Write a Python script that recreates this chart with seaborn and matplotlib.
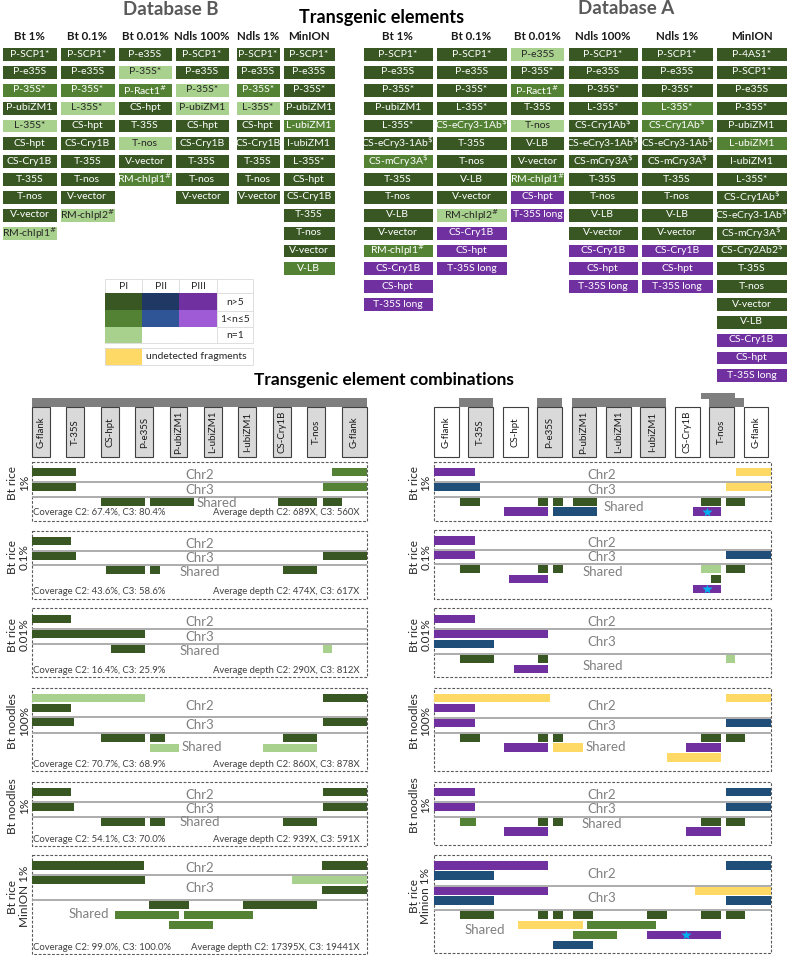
import numpy as np
import matplotlib.pyplot as plt
from matplotlib.colors import ListedColormap
from matplotlib.patches import Rectangle
import seaborn as sns

# -----------------------
# Colour codes
# -----------------------
# D/M/L: PI n>5, 1<n<=5, n=1 ; N/b: PII ; P/p: PIII ; B: PII bars ; Y: undetected
CODES = ["D", "M", "L", "N", "b", "P", "p", "B", "Y", "W"]
PALETTE = ["#385723", "#548235", "#a9d18e", "#203864", "#2f5597",
           "#7030a0", "#9e5bd5", "#1f4e79", "#ffd966", "#ffffff"]
CMAP = ListedColormap(PALETTE)

# -----------------------
# Transgenic element tables
# -----------------------
headers = ["Bt 1%", "Bt 0.1%", "Bt 0.01%", "Ndls 100%", "Ndls 1%", "MinION"]

b_bt1 = ["P-SCP1*", "P-e35S", "P-35S*", "P-ubiZM1", "L-35S*", "CS-hpt", "CS-Cry1B",
         "T-35S", "T-nos", "V-vector", "RM-chlpl1#"]
b_bt1_lv = "DDMDLDDDDDL"
b_bt01 = ["P-SCP1*", "P-e35S", "P-35S*", "L-35S*", "CS-hpt", "CS-Cry1B", "T-35S",
          "T-nos", "V-vector", "RM-chlpl2#"]
b_bt01_lv = "DDMLDDDDDL"
b_bt001 = ["P-e35S", "P-35S*", "P-Ract1#", "CS-hpt", "T-35S", "T-nos", "V-vector",
           "RM-chlpl1#"]
b_bt001_lv = "DLMDDLDM"
b_nd100 = ["P-SCP1*", "P-e35S", "P-35S*", "P-ubiZM1", "CS-hpt", "CS-Cry1B", "T-35S",
           "T-nos", "V-vector"]
b_nd100_lv = "DDLLDDDDD"
b_nd1 = ["P-SCP1*", "P-e35S", "P-35S*", "L-35S*", "CS-hpt", "CS-Cry1B", "T-35S",
         "T-nos", "V-vector"]
b_nd1_lv = "DDMLDDDDD"
b_minion = ["P-SCP1*", "P-e35S", "P-35S*", "P-ubiZM1", "L-ubiZM1", "I-ubiZM1", "L-35S*",
            "CS-hpt", "CS-Cry1B", "T-35S", "T-nos", "V-vector", "V-LB"]
b_minion_lv = "DDDDMDDDDDDDM"

a_bt1 = ["P-SCP1*", "P-e35S", "P-35S*", "P-ubiZM1", "L-35S*", "CS-eCry3-1Ab$",
         "CS-mCry3A$", "T-35S", "T-nos", "V-LB", "V-vector", "RM-chlpl1#", "CS-Cry1B",
         "CS-hpt", "T-35S long"]
a_bt1_lv = "DDDDDDMDDDDMPPP"
a_bt01 = ["P-SCP1*", "P-e35S", "P-35S*", "L-35S*", "CS-eCry3-1Ab$", "T-35S", "T-nos",
          "V-LB", "V-vector", "RM-chlpl2#", "CS-Cry1B", "CS-hpt", "T-35S long"]
a_bt01_lv = "DDDDMDDDDLPPP"
a_bt001 = ["P-e35S", "P-35S*", "P-Ract1#", "T-35S", "T-nos", "V-LB", "V-vector",
           "RM-chlpl1#", "CS-hpt", "T-35S long"]
a_bt001_lv = "LDMDLDDMPP"
a_nd100 = ["P-SCP1*", "P-e35S", "P-35S*", "L-35S*", "CS-Cry1Ab$", "CS-eCry3-1Ab$",
           "CS-mCry3A$", "T-35S", "T-nos", "V-LB", "V-vector", "CS-Cry1B", "CS-hpt",
           "T-35S long"]
a_nd100_lv = "DDDDDDDDDDDPPP"
a_nd1 = list(a_nd100)
a_nd1_lv = "DDDMMDDDDDDPPP"
a_minion = ["P-4AS1*", "P-SCP1*", "P-e35S", "P-35S*", "P-ubiZM1", "L-ubiZM1", "I-ubiZM1",
            "L-35S*", "CS-Cry1Ab$", "CS-eCry3-1Ab$", "CS-mCry3A$", "CS-Cry2Ab2$", "T-35S",
            "T-nos", "V-vector", "V-LB", "CS-Cry1B", "CS-hpt", "T-35S long"]
a_minion_lv = "DDDDDMDDDDDDDDDDPPP"

legend_rows = ["n>5", "1<n≤5", "n=1"]
legend_cols = ["PI", "PII", "PIII"]
legend_codes = [["D", "N", "P"], ["M", "b", "p"], ["L", "W", "W"]]

# -----------------------
# Element combinations (track, lane, start, end, code) in element units
# -----------------------
elements = ["G-flank", "T-35S", "CS-hpt", "P-e35S", "P-ubiZM1", "L-ubiZM1",
            "I-ubiZM1", "CS-Cry1B", "T-nos", "G-flank"]
filled_a = [False, True, False, True, True, True, True, False, True, False]
top_bars_a = [(0.73, 1.72, 0), (2.99, 3.72, 0), (4.01, 6.74, 0), (7.75, 8.74, 1), (7.99, 9.01, 0)]

left_names = ["Bt rice\n1%", "Bt rice\n0.1%", "Bt rice\n0.01%", "Bt noodles\n100%",
              "Bt noodles\n1%", "Bt rice\nMinION 1%"]
right_names = ["Bt rice\n1%", "Bt rice\n0.1%", "Bt rice\n0.01%", "Bt noodles\n100%",
               "Bt noodles\n1%", "Bt rice\nMinion 1%"]

cov_c2 = [67.4, 43.6, 16.4, 70.7, 54.1, 99.0]
cov_c3 = [80.4, 58.6, 25.9, 68.9, 70.0, 100.0]
depth_c2 = [689, 474, 290, 860, 939, 17395]
depth_c3 = [560, 617, 812, 878, 591, 19441]

L1 = [("Chr2", 0, 0.00, 1.28, "D"), ("Chr2", 0, 8.73, 9.74, "M"),
      ("Chr3", 0, 0.00, 1.28, "D"), ("Chr3", 0, 8.45, 9.74, "M"),
      ("Shared", 0, 2.00, 3.29, "D"), ("Shared", 0, 3.43, 4.71, "D"),
      ("Shared", 0, 7.16, 8.29, "D"), ("Shared", 0, 8.45, 9.02, "D")]
L2 = [("Chr2", 0, 0.00, 1.14, "D"),
      ("Chr3", 0, 0.00, 1.28, "D"), ("Chr3", 0, 8.45, 9.74, "D"),
      ("Shared", 0, 2.15, 3.29, "D"), ("Shared", 0, 3.43, 3.72, "D"),
      ("Shared", 0, 7.31, 8.29, "D")]
L3 = [("Chr2", 0, 0.00, 1.14, "D"),
      ("Chr3", 0, 0.00, 3.29, "D"),
      ("Shared", 0, 2.29, 3.29, "D"), ("Shared", 0, 8.45, 8.71, "L")]
L4 = [("Chr2", 0, 0.00, 3.29, "L"), ("Chr2", 0, 8.45, 9.74, "D"), ("Chr2", 1, 0.00, 1.14, "D"),
      ("Chr3", 0, 0.00, 1.21, "D"), ("Chr3", 0, 8.45, 9.74, "D"),
      ("Shared", 0, 2.00, 3.29, "D"), ("Shared", 0, 3.43, 3.87, "D"),
      ("Shared", 0, 7.31, 8.29, "D"), ("Shared", 1, 3.43, 4.28, "L"),
      ("Shared", 1, 6.72, 8.29, "L")]
L5 = [("Chr2", 0, 0.00, 1.14, "D"), ("Chr2", 0, 8.45, 9.74, "D"),
      ("Chr3", 0, 0.00, 1.21, "D"), ("Chr3", 0, 8.45, 9.74, "D"),
      ("Shared", 0, 2.00, 3.29, "D"), ("Shared", 0, 3.43, 3.87, "D"),
      ("Shared", 0, 7.31, 8.29, "D")]
L6 = [("Chr2", 0, 0.00, 3.27, "D"), ("Chr2", 0, 8.42, 9.74, "D"),
      ("Chr3", 0, 0.00, 3.29, "D"), ("Chr3", 0, 7.57, 9.74, "L"), ("Chr3", 1, 8.42, 9.74, "D"),
      ("Shared", 0, 3.41, 4.56, "D"), ("Shared", 0, 6.14, 8.28, "D"),
      ("Shared", 1, 2.41, 4.27, "M"), ("Shared", 1, 4.42, 6.42, "M"),
      ("Shared", 2, 3.99, 5.27, "M")]

R1 = [("Chr2", 0, 0.00, 1.18, "P"), ("Chr2", 0, 8.77, 9.79, "Y"),
      ("Chr3", 0, 0.00, 1.33, "B"), ("Chr3", 0, 8.48, 9.79, "Y"),
      ("Shared", 0, 0.75, 1.33, "D"), ("Shared", 0, 3.02, 3.32, "D"),
      ("Shared", 0, 3.47, 3.76, "D"), ("Shared", 0, 4.04, 4.75, "D"),
      ("Shared", 0, 7.75, 8.33, "D"), ("Shared", 0, 8.48, 9.04, "D"),
      ("Shared", 1, 2.03, 3.32, "P"), ("Shared", 1, 3.47, 4.75, "B"),
      ("Shared", 1, 7.54, 8.33, "P")]
R2 = [("Chr2", 0, 0.00, 1.18, "P"),
      ("Chr3", 0, 0.00, 1.18, "P"), ("Chr3", 0, 8.48, 9.79, "B"),
      ("Shared", 0, 0.75, 1.33, "D"), ("Shared", 0, 3.02, 3.32, "D"),
      ("Shared", 0, 3.47, 3.76, "D"), ("Shared", 0, 7.75, 8.33, "L"),
      ("Shared", 0, 8.48, 9.04, "D"), ("Shared", 1, 2.18, 3.32, "P"),
      ("Shared", 1, 8.04, 8.33, "D"), ("Shared", 2, 7.54, 8.33, "P")]
R3 = [("Chr2", 0, 0.00, 1.18, "P"),
      ("Chr3", 0, 0.00, 3.32, "P"), ("Chr3", 1, 0.00, 1.75, "B"),
      ("Shared", 0, 0.75, 1.75, "D"), ("Shared", 0, 3.02, 3.32, "D"),
      ("Shared", 0, 8.48, 8.75, "L"), ("Shared", 1, 2.33, 3.32, "P")]
R4 = [("Chr2", 0, 0.00, 3.38, "Y"), ("Chr2", 0, 8.48, 9.79, "Y"), ("Chr2", 1, 0.00, 1.18, "P"),
      ("Chr3", 0, 0.00, 1.18, "P"), ("Chr3", 0, 8.48, 9.79, "B"),
      ("Shared", 0, 0.75, 1.33, "D"), ("Shared", 0, 3.02, 3.32, "D"),
      ("Shared", 0, 3.47, 3.76, "D"), ("Shared", 0, 7.75, 8.33, "D"),
      ("Shared", 0, 8.48, 9.04, "D"), ("Shared", 1, 2.03, 3.32, "P"),
      ("Shared", 1, 3.47, 4.33, "Y"), ("Shared", 1, 7.34, 8.33, "P"),
      ("Shared", 2, 6.76, 8.33, "Y")]
R5 = [("Chr2", 0, 0.00, 1.18, "P"), ("Chr2", 0, 8.48, 9.79, "B"),
      ("Chr3", 0, 0.00, 1.18, "P"), ("Chr3", 0, 8.48, 9.79, "B"),
      ("Shared", 0, 0.75, 1.23, "M"), ("Shared", 0, 3.02, 3.32, "D"),
      ("Shared", 0, 3.47, 3.76, "D"), ("Shared", 0, 7.75, 8.33, "D"),
      ("Shared", 0, 8.48, 9.04, "D"), ("Shared", 1, 2.03, 3.32, "P"),
      ("Shared", 1, 7.34, 8.33, "P")]
R6 = [("Chr2", 0, 0.00, 3.32, "P"), ("Chr2", 0, 8.48, 9.79, "B"), ("Chr2", 1, 0.00, 1.75, "B"),
      ("Chr3", 0, 0.00, 3.32, "P"), ("Chr3", 0, 7.59, 9.79, "Y"),
      ("Chr3", 1, 0.00, 1.75, "B"), ("Chr3", 1, 8.48, 9.79, "B"),
      ("Shared", 0, 0.75, 1.75, "D"), ("Shared", 0, 3.02, 3.32, "D"),
      ("Shared", 0, 3.47, 3.76, "D"), ("Shared", 0, 4.04, 4.62, "D"),
      ("Shared", 0, 6.18, 6.76, "D"), ("Shared", 0, 7.75, 8.33, "D"),
      ("Shared", 0, 8.48, 9.04, "D"), ("Shared", 1, 2.45, 4.33, "Y"),
      ("Shared", 1, 4.46, 6.46, "M"), ("Shared", 2, 4.04, 5.31, "M"),
      ("Shared", 2, 6.18, 8.33, "P"), ("Shared", 3, 3.47, 4.62, "B")]

right_stars = [[("Shared", 1, 7.93)], [("Shared", 2, 7.93)], [], [], [], [("Shared", 2, 7.32)]]

# -----------------------
# Layout (pixels)
# -----------------------
W, H = 788, 955
ROW0, PITCH = 46.7, 17.85
EL_PX = 34.4
LANE, BAR = 9.95, 8.3
b_cols = [(1.7, 57.3), (59.3, 115.0), (117.3, 172.7), (174.0, 230.0), (235.3, 280.0), (282.3, 335.0)]
a_cols = [(362.3, 433.3), (435.7, 507.3), (510.0, 565.0), (567.3, 638.3), (640.7, 713.3), (715.7, 787.3)]
left_lay = [(461.7, 482.3, 496.7, 521.0), (530.7, 550.7, 565.0, 599.3), (608.3, 629.3, 644.3, 676.7),
            (687.7, 717.3, 733.3, 771.0), (781.7, 801.7, 816.7, 846.0), (855.0, 875.0, 900.0, 954.0)]
right_lay = [(461.7, 482.3, 496.7, 521.0), (530.0, 550.0, 564.3, 599.3), (608.3, 629.0, 654.0, 677.3),
             (687.7, 718.3, 732.7, 771.0), (781.7, 801.7, 816.7, 845.0), (855.0, 885.7, 910.0, 953.3)]
left_shared = [(5.37, 502.7), (4.88, 571.7), (4.88, 650.7), (4.93, 746.7), (4.88, 821.7), (1.66, 914.0)]
right_shared = [(5.52, 506.7), (4.90, 572.3), (4.90, 665.7), (4.99, 746.7), (4.89, 824.0), (1.49, 930.0)]
cov_y = [512.7, 591.0, 670.7, 764.3, 839.0, 947.3]

sns.set_theme(style="white")
plt.rcParams["font.family"] = ["Lato", "DejaVu Sans"]

fig = plt.figure(figsize=(W / 100, H / 100), dpi=100)
base = fig.add_axes([0, 0, 1, 1])
base.set_xlim(0, W)
base.set_ylim(H, 0)
base.set_axis_off()


def px_axes(x0, y0, x1, y1):
    return fig.add_axes([x0 / W, 1 - y1 / H, (x1 - x0) / W, (y1 - y0) / H])


def fmt_label(s):
    if s.endswith("#"):
        return s[:-1] + r"$^{\#}$"
    if s.endswith("$"):
        return s[:-1] + r"$^{\$}$"
    return s


def draw_column(x0, x1, names, levels):
    cax = px_axes(x0 - 1.5, ROW0 - 1.5, x1 + 1.5, ROW0 - 1.5 + len(names) * PITCH)
    vals = np.array([[CODES.index(c)] for c in levels])
    labels = np.array([[fmt_label(s)] for s in names])
    sns.heatmap(vals, ax=cax, cmap=CMAP, vmin=-0.5, vmax=len(CODES) - 0.5,
                annot=labels, fmt="", cbar=False, linewidths=2.2, linecolor="white",
                xticklabels=False, yticklabels=False, annot_kws={"fontsize": 7.5})
    cax.set_axis_off()


b_data = [(b_bt1, b_bt1_lv), (b_bt01, b_bt01_lv), (b_bt001, b_bt001_lv),
          (b_nd100, b_nd100_lv), (b_nd1, b_nd1_lv), (b_minion, b_minion_lv)]
a_data = [(a_bt1, a_bt1_lv), (a_bt01, a_bt01_lv), (a_bt001, a_bt001_lv),
          (a_nd100, a_nd100_lv), (a_nd1, a_nd1_lv), (a_minion, a_minion_lv)]
for cols, data in [(b_cols, b_data), (a_cols, a_data)]:
    for (x0, x1), (names, lv), head in zip(cols, data, headers):
        draw_column(x0, x1, names, lv)
        base.text((x0 + x1) / 2, 37, head, ha="center", va="center",
                  fontsize=8.3, fontweight="bold", color="#1a1a1a")

base.text(171, 9.5, "Database B", ha="center", va="center", fontsize=13.5,
          fontweight="bold", color="#595959")
base.text(626, 8.5, "Database A", ha="center", va="center", fontsize=13.5,
          fontweight="bold", color="#595959")
base.text(382, 17, "Transgenic elements", ha="center", va="center", fontsize=13,
          fontweight="bold", color="black")
base.text(384, 380, "Transgenic element combinations", ha="center", va="center",
          fontsize=12.5, fontweight="bold", color="black")

# -----------------------
# Legend
# -----------------------
lax = px_axes(105, 293.3, 216.7, 343.3)
sns.heatmap(np.array([[CODES.index(c) for c in row] for row in legend_codes]), ax=lax,
            cmap=CMAP, vmin=-0.5, vmax=len(CODES) - 0.5, cbar=False,
            xticklabels=False, yticklabels=False)
lax.set_axis_off()
grid_x = [105, 142.3, 179.3, 216.7, 253.3]
grid_y = [279.3, 293.3, 310.7, 327.3, 343.3]
base.hlines(grid_y, 105, 253.3, color="#d9d9d9", lw=0.6)
base.vlines(grid_x, 279.3, 343.3, color="#d9d9d9", lw=0.6)
base.hlines([347.7, 365], 105, 253.3, color="#d9d9d9", lw=0.6)
base.vlines([105, 253.3], 347.7, 365, color="#d9d9d9", lw=0.6)
base.add_patch(Rectangle((105, 347.7), 37.3, 17.3, color=PALETTE[CODES.index("Y")], lw=0))
for i, c in enumerate(legend_cols):
    base.text((grid_x[i] + grid_x[i + 1]) / 2, 286.5, c, ha="center", va="center", fontsize=7.5)
for j, r in enumerate(legend_rows):
    base.text(235, (grid_y[j + 1] + grid_y[j + 2]) / 2, r, ha="center", va="center", fontsize=7.5)
base.text(146, 356.3, "undetected fragments", ha="left", va="center", fontsize=7.5)


# -----------------------
# Combination panels
# -----------------------
def draw_side(x0, xmax, box_w, filled, top_bars, layouts, panels, stars, shared_pos,
              names, label_x, with_cov):
    sax = px_axes(x0, 0, x0 + xmax * EL_PX, H)
    sax.set_xlim(0, xmax)
    sax.set_ylim(H, 0)
    sax.set_axis_off()
    for a, b, lvl in top_bars:
        y, h = (398.0, 8.5) if lvl == 0 else (393.3, 6.0)
        sax.barh(y + h / 2, b - a, left=a, height=h, color="#7f7f7f", lw=0)
    for i, (name, w, f) in enumerate(zip(elements, box_w, filled)):
        sax.add_patch(Rectangle((i, 407), w, 50, fc="#d9d9d9" if f else "white",
                                ec="#404040", lw=0.8, clip_on=False))
        sax.text(i + w / 2, 432, name, rotation=90, ha="center", va="center",
                 fontsize=7, color="#1a1a1a")
    for k, ((top, s1, s2, bot), segs) in enumerate(zip(layouts, panels)):
        sax.add_patch(Rectangle((0, top), xmax, bot - top, fill=False, ec="#595959",
                                lw=0.8, ls=(0, (2.5, 1.5)), clip_on=False))
        sax.hlines([s1, s2], 0, xmax, color="#a6a6a6", lw=1.3)
        lane0 = {"Chr2": top + 6.4, "Chr3": s1 + 0.8, "Shared": s2 + 0.8}
        for track, lane, a, b, code in segs:
            sax.barh(lane0[track] + lane * LANE + BAR / 2, b - a, left=a, height=BAR,
                     color=PALETTE[CODES.index(code)], lw=0)
        for track, lane, pos in stars[k]:
            sax.plot(pos, lane0[track] + lane * LANE + BAR / 2, marker="*",
                     color="#00b0f0", ms=7, mec="none")
        tc = "#808080"
        sax.text(4.88, (top + 6.4 + s1) / 2, "Chr2", color=tc, fontsize=9.5,
                 ha="center", va="center")
        sax.text(4.88, (s1 + s2) / 2, "Chr3", color=tc, fontsize=9.5,
                 ha="center", va="center")
        sax.text(shared_pos[k][0], shared_pos[k][1], "Shared", color=tc, fontsize=9.5,
                 ha="center", va="center")
        if with_cov:
            sax.text(0.03, cov_y[k], f"Coverage C2: {cov_c2[k]:.1f}%, C3: {cov_c3[k]:.1f}%",
                     fontsize=6.8, color="#404040", va="center", ha="left")
            sax.text(xmax - 0.22, cov_y[k],
                     f"Average depth C2: {depth_c2[k]}X, C3: {depth_c3[k]}X",
                     fontsize=6.8, color="#404040", va="center", ha="right")
        base.text(label_x, (top + bot) / 2 - 8, names[k], rotation=90, ha="center",
                  va="center", fontsize=8.5, linespacing=1.1, color="#262626")


draw_side(32, 9.74, [0.52] * 9 + [0.73], [True] * 10, [(0.0, 9.74, 0)],
          left_lay, [L1, L2, L3, L4, L5, L6], [[]] * 6, left_shared,
          left_names, 18.5, True)
draw_side(434, 9.79, [0.72] * 10, filled_a, top_bars_a,
          right_lay, [R1, R2, R3, R4, R5, R6], right_stars, right_shared,
          right_names, 420, False)

fig.savefig("out.png", dpi=100)
plt.close(fig)
